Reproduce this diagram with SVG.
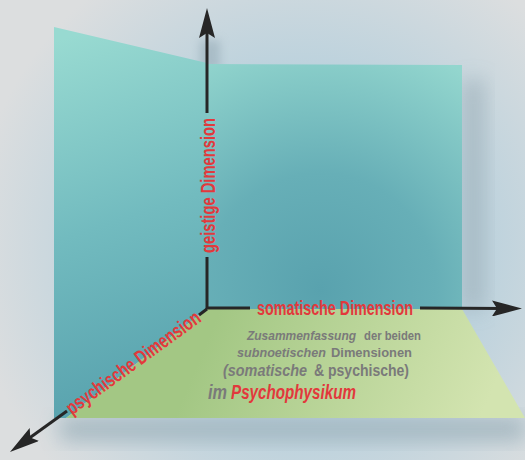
<svg xmlns="http://www.w3.org/2000/svg" width="525" height="460" viewBox="0 0 525 460">
<defs>
  <radialGradient id="bg" cx="300" cy="250" r="330" gradientUnits="userSpaceOnUse">
    <stop offset="0" stop-color="#a7c6d6"/>
    <stop offset="0.55" stop-color="#bcd2dd"/>
    <stop offset="1" stop-color="#dcdedf"/>
  </radialGradient>
  <linearGradient id="lw" x1="60" y1="40" x2="180" y2="400" gradientUnits="userSpaceOnUse">
    <stop offset="0" stop-color="#98dad1"/>
    <stop offset="0.5" stop-color="#72bbbf"/>
    <stop offset="1" stop-color="#57a1ad"/>
  </linearGradient>
  <radialGradient id="bw" cx="320" cy="290" r="260" gradientUnits="userSpaceOnUse">
    <stop offset="0" stop-color="#59a2ae"/>
    <stop offset="0.45" stop-color="#67afb7"/>
    <stop offset="1" stop-color="#93d6ce"/>
  </radialGradient>
  <linearGradient id="fl" x1="220" y1="310" x2="480" y2="420" gradientUnits="userSpaceOnUse">
    <stop offset="0" stop-color="#a3c784"/>
    <stop offset="1" stop-color="#d3e4b0"/>
  </linearGradient>
  <filter id="blur12" x="-50%" y="-50%" width="200%" height="200%">
    <feGaussianBlur stdDeviation="10"/>
  </filter>
  <filter id="blur6" x="-50%" y="-50%" width="200%" height="200%">
    <feGaussianBlur stdDeviation="5"/>
  </filter>
  <marker id="arrow" viewBox="0 0 30 16" markerWidth="30" markerHeight="16" refX="12" refY="8" orient="auto" markerUnits="userSpaceOnUse">
    <path d="M0,0 L30,8 L0,16 L5,8 z" fill="#262626"/>
  </marker>
  <style>
    .axis { stroke: #262626; stroke-width: 3; fill: none; }
    .lbl { font-family: "Liberation Sans", Arial, sans-serif; font-weight: bold; font-size: 20px; fill: #e2393c; }
    .ft { font-family: "Liberation Sans", Arial, sans-serif; font-weight: bold; fill: #7a7a7a; }
    .it { font-style: italic; }
    .red { fill: #e2393c; }
  </style>
</defs>

<g id="background">
  <rect x="0" y="0" width="525" height="460" fill="url(#bg)"/>
  <rect x="462" y="80" width="22" height="230" fill="#9fb0b9" opacity="0.7" filter="url(#blur12)"/>
  <rect x="60" y="418" width="465" height="22" fill="#9fb2bc" opacity="0.85" filter="url(#blur12)"/>
  <rect x="200" y="40" width="20" height="30" fill="#8ea4b0" opacity="0.5" filter="url(#blur6)"/>
</g>

<g id="left-wall">
  <polygon points="54,27 207,63 207,309 66,418 54,418" fill="url(#lw)"/>
</g>
<g id="back-wall">
  <polygon points="207,64 462,65 462,309 207,309" fill="url(#bw)"/>
</g>
<g id="floor">
  <polygon points="207,309 462,309 525,418 66,418" fill="url(#fl)"/>
</g>

<g id="connectors">
  <line class="axis" x1="207" y1="309" x2="207" y2="257"/>
  <line class="axis" x1="207" y1="113" x2="207" y2="26" marker-end="url(#arrow)"/>
  <line class="axis" x1="206" y1="308" x2="250" y2="308"/>
  <line class="axis" x1="420" y1="308" x2="504" y2="308.5" marker-end="url(#arrow)"/>
  <line class="axis" x1="207" y1="309" x2="199" y2="315"/>
  <line class="axis" x1="67" y1="411" x2="24.6" y2="441.5" marker-end="url(#arrow)"/>
</g>

<g id="label-geistig">
  <text class="lbl" transform="translate(215,185.5) rotate(-90)" text-anchor="middle" textLength="135" lengthAdjust="spacingAndGlyphs">geistige Dimension</text>
</g>
<g id="label-somatisch">
  <text class="lbl" x="335" y="315" text-anchor="middle" textLength="156" lengthAdjust="spacingAndGlyphs">somatische Dimension</text>
</g>
<g id="label-psychisch">
  <text class="lbl" transform="translate(137.1,368.1) rotate(-36)" text-anchor="middle" textLength="161" lengthAdjust="spacingAndGlyphs">psychische Dimension</text>
</g>

<g id="floor-text">
  <text class="ft" font-size="13.5" y="340"><tspan class="it" x="247" textLength="109" lengthAdjust="spacingAndGlyphs">Zusammenfassung</tspan><tspan x="364" textLength="57" lengthAdjust="spacingAndGlyphs">der beiden</tspan></text>
  <text class="ft" font-size="13.5" y="356.5"><tspan class="it" x="237" textLength="89" lengthAdjust="spacingAndGlyphs">subnoetischen</tspan><tspan x="331" textLength="81" lengthAdjust="spacingAndGlyphs">Dimensionen</tspan></text>
  <text class="ft" font-size="16.5" y="375.5"><tspan class="it" x="223" textLength="84" lengthAdjust="spacingAndGlyphs">(somatische</tspan><tspan x="314" textLength="95" lengthAdjust="spacingAndGlyphs">&amp; psychische)</tspan></text>
  <text class="ft it" font-size="19.5" y="398.5"><tspan x="208" textLength="19" lengthAdjust="spacingAndGlyphs">im</tspan><tspan class="red" x="231" textLength="125" lengthAdjust="spacingAndGlyphs">Psychophysikum</tspan></text>
</g>
</svg>
